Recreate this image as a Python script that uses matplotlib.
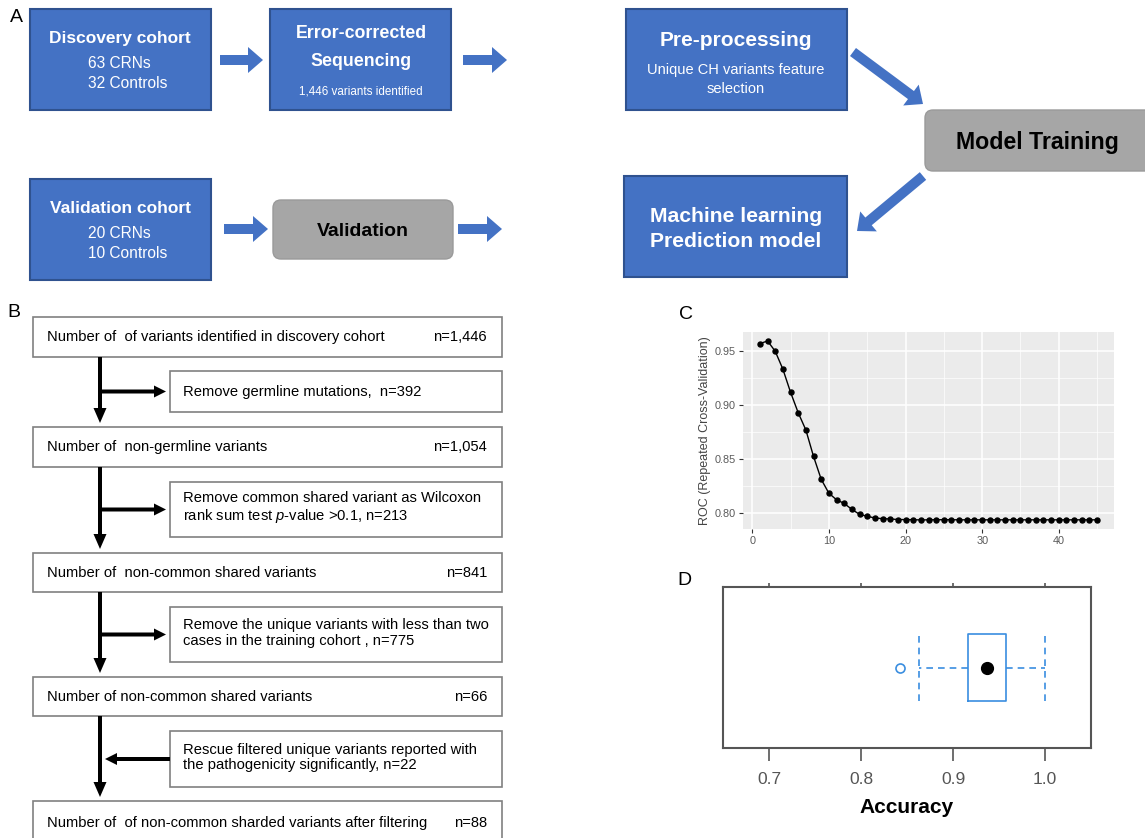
import matplotlib
matplotlib.use("Agg")
import matplotlib.pyplot as plt
from matplotlib.patches import Rectangle, FancyBboxPatch, FancyArrow

W, H = 1145, 838
SANS = "Liberation Sans"

BLUE = "#4472C4"
BLUE_EDGE = "#2F528F"
GREY_BOX = "#A6A6A6"
BOX_EDGE = "#808080"

plt.rcParams["font.family"] = SANS
plt.rcParams["mathtext.fontset"] = "custom"
plt.rcParams["mathtext.rm"] = SANS
plt.rcParams["mathtext.it"] = SANS + ":italic"

# ── Panel B: filtering steps ─────────────────────────────────────────────────
main_steps = [
    "Number of  of variants identified in discovery cohort",
    "Number of  non-germline variants",
    "Number of  non-common shared variants",
    "Number of non-common shared variants",
    "Number of  of non-common sharded variants after filtering",
]
main_counts = ["n=1,446", "n=1,054", "n=841", "n=66", "n=88"]
side_steps = [
    "Remove germline mutations,  n=392",
    "Remove common shared variant as Wilcoxon\nrank sum test $\\it{p}$-value >0.1, n=213",
    "Remove the unique variants with less than two\ncases in the training cohort , n=775",
    "Rescue filtered unique variants reported with\nthe pathogenicity significantly, n=22",
]
side_rescue = [False, False, False, True]

# ── Panel C: ROC vs number of variables ─────────────────────────────────────
n_vars = list(range(1, 46))
roc = [0.9570, 0.9595, 0.9500, 0.9334, 0.9120, 0.8930, 0.8770, 0.8525, 0.8313, 0.8184,
       0.8123, 0.8089, 0.8034, 0.7988, 0.7970, 0.7954, 0.7948, 0.7945, 0.7940, 0.7939,
       0.7938, 0.7936, 0.7937, 0.7938, 0.7938, 0.7938, 0.7937, 0.7937, 0.7937, 0.7937,
       0.7937, 0.7937, 0.7937, 0.7937, 0.7937, 0.7937, 0.7937, 0.7937, 0.7937, 0.7937,
       0.7937, 0.7937, 0.7937, 0.7937, 0.7937]

# ── Panel D: accuracy box plot ──────────────────────────────────────────────
acc_whislo, acc_q1, acc_med, acc_q3, acc_whishi = 0.8633, 0.916, 0.937, 0.958, 1.0
acc_fliers = [0.842]
acc_ticks = [0.7, 0.8, 0.9, 1.0]

fig = plt.figure(figsize=(W / 100, H / 100), dpi=100)
fig.patch.set_facecolor("white")

ax = fig.add_axes([0, 0, 1, 1])
ax.set_xlim(0, W)
ax.set_ylim(H, 0)
ax.axis("off")


def blue_box(x0, y0, x1, y1):
    ax.add_patch(Rectangle((x0, y0), x1 - x0, y1 - y0, facecolor=BLUE,
                           edgecolor=BLUE_EDGE, lw=1.5))


def grey_box(x0, y0, x1, y1):
    ax.add_patch(FancyBboxPatch((x0 + 8, y0 + 8), x1 - x0 - 16, y1 - y0 - 16,
                                boxstyle="round,pad=8", facecolor=GREY_BOX,
                                edgecolor="#9A9A9A", lw=1))


def block_arrow(x0, y0, x1, y1):
    ax.add_patch(FancyArrow(x0, y0, x1 - x0, y1 - y0, width=10, head_width=26,
                            head_length=15, length_includes_head=True,
                            color=BLUE, lw=0))


def wtxt(x, y, s, size, bold=False, ha="center", color="white"):
    ax.text(x, y, s, fontsize=size, color=color, ha=ha, va="center",
            fontweight="bold" if bold else "normal")


# ── Panel A ─────────────────────────────────────────────────────────────────
ax.text(16, 17, "A", fontsize=14, va="center", ha="center")

blue_box(30, 9, 211, 110)
wtxt(120, 39, "Discovery cohort", 12.5, bold=True)
wtxt(88, 64, "63 CRNs", 11.2, ha="left")
wtxt(88, 84, "32 Controls", 11.2, ha="left")

blue_box(270, 9, 451, 110)
wtxt(361, 34, "Error-corrected", 12.8, bold=True)
wtxt(361, 61, "Sequencing", 12.8, bold=True)
wtxt(361, 92, "1,446 variants identified", 8.4)

blue_box(626, 9, 847, 110)
wtxt(736, 40, "Pre-processing", 15, bold=True)
wtxt(736, 70, "Unique CH variants feature", 10.5)
wtxt(736, 89, "selection", 10.5)

grey_box(925, 110, 1165, 171)
wtxt(1037, 143, "Model Training", 16.7, bold=True, color="black")

blue_box(30, 179, 211, 280)
wtxt(120, 208, "Validation cohort", 12.5, bold=True)
wtxt(88, 233, "20 CRNs", 11.2, ha="left")
wtxt(88, 253, "10 Controls", 11.2, ha="left")

grey_box(273, 200, 453, 259)
wtxt(363, 231, "Validation", 14, bold=True, color="black")

blue_box(624, 176, 847, 277)
wtxt(736, 216, "Machine learning", 15.2, bold=True)
wtxt(736, 241, "Prediction model", 15.2, bold=True)

block_arrow(220, 60, 263, 60)
block_arrow(463, 60, 507, 60)
block_arrow(853, 52, 923, 104)
block_arrow(224, 229, 268, 229)
block_arrow(458, 229, 502, 229)
block_arrow(923, 176, 857, 231)

# ── Panel B ─────────────────────────────────────────────────────────────────
ax.text(14, 312, "B", fontsize=14, va="center", ha="center")

main_y = [(317, 357), (427, 467), (553, 592), (677, 716), (801, 850)]
side_y = [(371, 412), (482, 537), (607, 662), (731, 787)]
B_SIZE = 10.6

for (y0, y1), label, count in zip(main_y, main_steps, main_counts):
    ax.add_patch(Rectangle((33, y0), 469, y1 - y0, facecolor="white",
                           edgecolor=BOX_EDGE, lw=1.2))
    yc = (y0 + y1) / 2 if y1 < 845 else 823
    ax.text(47, yc, label, fontsize=B_SIZE, va="center", ha="left")
    ax.text(487, yc, count, fontsize=B_SIZE, va="center", ha="right")

for i, ((y0, y1), label, rescue) in enumerate(zip(side_y, side_steps, side_rescue)):
    ax.add_patch(Rectangle((170, y0), 332, y1 - y0, facecolor="white",
                           edgecolor=BOX_EDGE, lw=1.2))
    yc = (y0 + y1) / 2
    shift = -1.5 if "\n" in label else 0.5
    ax.text(183, yc + shift, label, fontsize=B_SIZE, va="center", ha="left",
            linespacing=1.15)
    # trunk arrow down to next main box
    top = main_y[i][1]
    nxt = main_y[i + 1][0]
    ax.add_patch(FancyArrow(100, top, 0, nxt - 4 - top, width=4, head_width=13,
                            head_length=15, length_includes_head=True,
                            color="black", lw=0))
    if rescue:
        ax.add_patch(FancyArrow(170, yc, -65, 0, width=4, head_width=12,
                                head_length=12, length_includes_head=True,
                                color="black", lw=0))
    else:
        ax.add_patch(FancyArrow(100, yc, 66, 0, width=4, head_width=12,
                                head_length=12, length_includes_head=True,
                                color="black", lw=0))

# ── Panel C ─────────────────────────────────────────────────────────────────
ax.text(686, 314, "C", fontsize=14, va="center", ha="center")
axc = fig.add_axes([743 / W, 1 - 529 / H, (1114 - 743) / W, (529 - 332) / H])
axc.set_facecolor("#EBEBEB")
axc.plot(n_vars, roc, color="black", lw=1.0, marker="o", ms=3.6, zorder=3)
axc.set_xlim(-1.2, 47.2)
axc.set_ylim(0.7852, 0.9678)
axc.set_xticks([0, 10, 20, 30, 40])
axc.set_xticks([5, 15, 25, 35, 45], minor=True)
axc.set_yticks([0.80, 0.85, 0.90, 0.95])
axc.set_yticks([0.825, 0.875, 0.925], minor=True)
axc.grid(which="major", color="white", lw=1.1)
axc.grid(which="minor", color="white", lw=0.5)
axc.set_axisbelow(True)
for s in axc.spines.values():
    s.set_visible(False)
axc.tick_params(which="major", length=3, width=0.8, color="#333333",
                labelsize=7.8, labelcolor="#5A5A5A", pad=2)
axc.tick_params(which="minor", length=0)
axc.set_ylabel("ROC (Repeated Cross-Validation)", fontsize=9, color="#444444",
               labelpad=3)

# ── Panel D ─────────────────────────────────────────────────────────────────
ax.text(684, 580, "D", fontsize=14, va="center", ha="center")
axd = fig.add_axes([723 / W, 1 - 748 / H, (1091 - 723) / W, (748 - 587) / H])
BOXC = "#3A8EE0"
stats = [dict(med=acc_med, q1=acc_q1, q3=acc_q3, whislo=acc_whislo,
              whishi=acc_whishi, fliers=acc_fliers)]
axd.bxp(stats, positions=[0.5], widths=0.416, vert=False, capwidths=0.416,
        boxprops=dict(color=BOXC, lw=1.2),
        whiskerprops=dict(color=BOXC, lw=1.2, linestyle=(0, (4, 3))),
        capprops=dict(color=BOXC, lw=1.2, linestyle=(0, (4, 3))),
        medianprops=dict(lw=0),
        flierprops=dict(marker="o", markerfacecolor="none", markeredgecolor=BOXC,
                        markersize=6.5, markeredgewidth=1.2))
axd.plot([acc_med], [0.5], "o", color="black", ms=8.5, zorder=4)
axd.set_xlim(0.65, 1.05)
axd.set_ylim(0, 1)
axd.set_yticks([])
axd.set_xticks(acc_ticks)
axd.set_xticklabels([f"{t:.1f}" for t in acc_ticks])
axd.tick_params(axis="x", length=9.5, width=1.2, color="#555555",
                labelsize=12.5, labelcolor="#555555", pad=8)
top = axd.secondary_xaxis("top")
top.set_xticks(acc_ticks)
top.tick_params(length=3, width=1.2, color="#555555", labeltop=False)
top.spines["top"].set_visible(False)
for s in axd.spines.values():
    s.set_color("#555555")
    s.set_linewidth(1.5)
axd.set_xlabel("Accuracy", fontsize=15, fontweight="bold", labelpad=8)

fig.savefig("out.png", dpi=100)
